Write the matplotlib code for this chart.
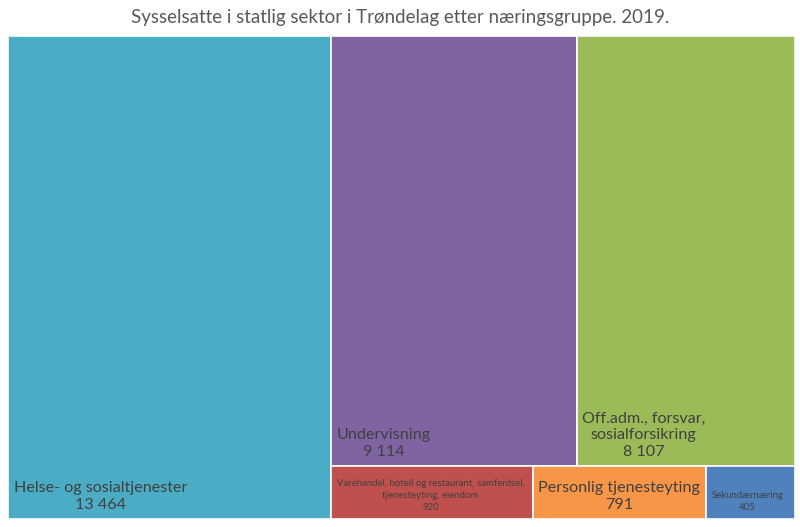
import matplotlib.pyplot as plt
from matplotlib.patches import Rectangle

plt.rcParams['font.family'] = ['Lato', 'DejaVu Sans']

# data
labels = [
    "Helse- og sosialtjenester",
    "Undervisning",
    "Off.adm., forsvar,\nsosialforsikring",
    "Varehandel, hotell og restaurant, samferdsel,\ntjenesteyting, eiendom",
    "Personlig tjenesteyting",
    "Sekundærnæring",
]
values = [13464, 9114, 8107, 920, 791, 405]
colors = ["#4BACC6", "#8064A2", "#9BBB59", "#C0504D", "#F79646", "#4F81BD"]
label_sizes = [11.6, 11.6, 11.6, 6.9, 11.6, 6.9]

title = "Sysselsatte i statlig sektor i Trøndelag etter næringsgruppe. 2019."


def fmt(v):
    return f"{v:,}".replace(",", " ")


# simple layout: first item a full-height column, rest split in two rows
W, H = 787.0, 483.0
total = sum(values)
rects = []
w0 = W * values[0] / total
rects.append((0, 0, w0, H))
rest = sum(values[1:])
W2 = W - w0
top = values[1:3]
bottom = values[3:]
h_top = H * sum(top) / rest
x = w0
for v in top:
    w = W2 * v / sum(top)
    rects.append((x, H - h_top, w, h_top))
    x += w
x = w0
for v in bottom:
    w = W2 * v / sum(bottom)
    rects.append((x, 0, w, H - h_top))
    x += w

fig = plt.figure(figsize=(8, 5.27), dpi=100)
ax = fig.add_axes([8 / 800, 8 / 527, 787 / 800, 483 / 527])
ax.set_xlim(0, W)
ax.set_ylim(0, H)
ax.axis("off")

for (x0, y0, w, h), lab, v, c, fs in zip(rects, labels, values, colors, label_sizes):
    ax.add_patch(Rectangle((x0, y0), w, h, facecolor=c, edgecolor="white", linewidth=1.2))
    ax.annotate(f"{lab}\n{fmt(v)}", (x0, y0), xytext=(4, 5), textcoords="offset points",
                ha="left", va="bottom", multialignment="center",
                fontsize=fs, color="#404040", linespacing=1.25 if fs > 10 else 1.45)

fig.text(0.5, 1 - 18 / 527, title, ha="center", va="center", fontsize=13.5, color="#595959")

fig.savefig("out.png", dpi=100)
